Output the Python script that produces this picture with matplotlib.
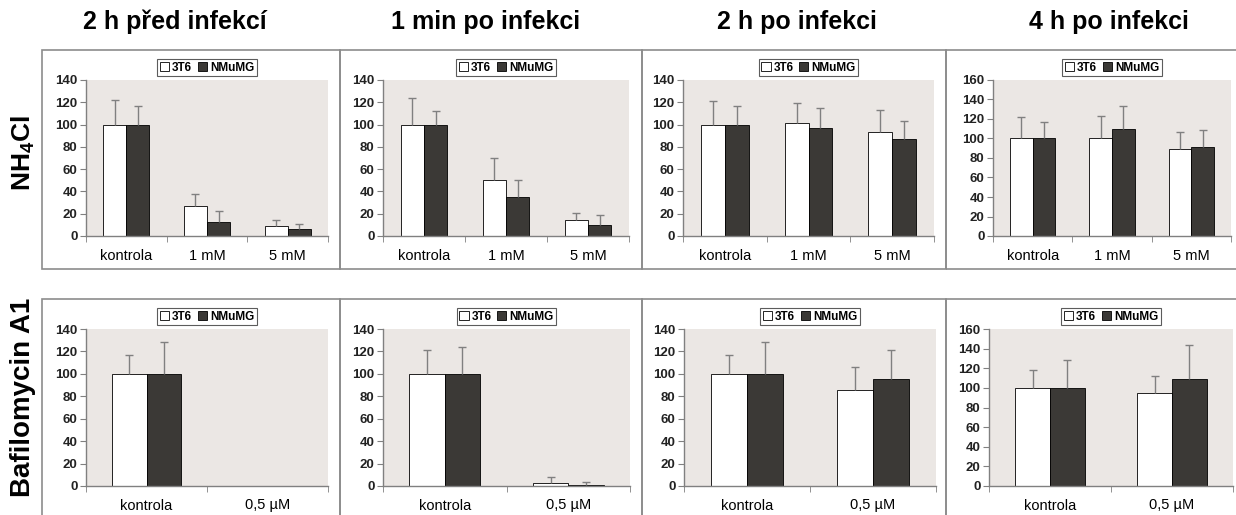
#!/usr/bin/env python3
import matplotlib
matplotlib.use('Agg')
import matplotlib.pyplot as plt
from matplotlib.patches import Patch, Rectangle
import numpy as np

plt.rcParams['font.family'] = ['Liberation Sans', 'DejaVu Sans']
plt.rcParams['mathtext.fontset'] = 'custom'
plt.rcParams['mathtext.rm'] = 'Liberation Sans:bold'
plt.rcParams['mathtext.bf'] = 'Liberation Sans:bold'

# column / row headings
col_titles = ['2 h před infekcí', '1 min po infekci', '2 h po infekci', '4 h po infekci']
row_titles = ['NH$_4$Cl', 'Bafilomycin A1']
series = ['3T6', 'NMuMG']

# NH4Cl row
nh4_cats = ['kontrola', '1 mM', '5 mM']
nh4_3t6 = [[100, 27, 9], [100, 50, 14], [100, 101, 93], [100, 101, 89]]
nh4_3t6_err = [[22, 11, 5], [24, 20, 7], [21, 18, 20], [22, 22, 18]]
nh4_nmumg = [[100, 13, 6], [100, 35, 10], [100, 97, 87], [100, 110, 91]]
nh4_nmumg_err = [[17, 9, 5], [12, 15, 9], [17, 18, 16], [17, 23, 18]]
nh4_ymax = [140, 140, 140, 160]

# Bafilomycin row
baf_cats = ['kontrola', '0,5 µM']
baf_3t6 = [[100, 0], [100, 3], [100, 86], [100, 95]]
baf_3t6_err = [[17, 0], [21, 5], [17, 20], [18, 17]]
baf_nmumg = [[100, 0], [100, 1], [100, 95], [100, 109]]
baf_nmumg_err = [[28, 0], [24, 3], [28, 26], [28, 35]]
baf_ymax = [140, 140, 140, 160]

W, H = 1236, 515
fig = plt.figure(figsize=(W / 100, H / 100), dpi=100)

def px_rect(x0, y0, x1, y1):
    # pixel box (top-left origin) -> figure fraction
    return [x0 / W, 1 - y1 / H, (x1 - x0) / W, (y1 - y0) / H]

# panel frames
frame_x = [42, 340, 642, 946, 1240]
for (fy0, fy1) in [(50, 269), (299, 520)]:
    for i in range(4):
        fig.add_artist(Rectangle((frame_x[i] / W, 1 - fy1 / H),
                                 (frame_x[i + 1] - frame_x[i]) / W, (fy1 - fy0) / H,
                                 transform=fig.transFigure, fill=False,
                                 edgecolor='#8c8c8c', linewidth=1.2))

top_x = [(86, 328), (383, 629), (683, 934), (993, 1231)]
bot_x = [(86, 328), (383, 630), (684, 936), (989, 1233)]

bar_bg = '#ebe7e4'
dark = '#3b3936'

def upper_err(ax, xs, vals, errs):
    xs, vals, errs = np.asarray(xs), np.asarray(vals), np.asarray(errs)
    keep = errs > 0
    _, caps, _ = ax.errorbar(xs[keep], vals[keep], yerr=[np.zeros(keep.sum()), errs[keep]],
                             fmt='none', ecolor='#808080', elinewidth=1,
                             capsize=3, capthick=1)
    caps[0].set_visible(False)

def draw_panel(rect, cats, v1, e1, v2, e2, ymax):
    ax = fig.add_axes(rect)
    ax.set_facecolor(bar_bg)
    n = len(cats)
    x = np.arange(n)
    w = 0.2857
    ax.bar(x - w / 2, v1, w, color='white', edgecolor='black', linewidth=0.6, zorder=2)
    ax.bar(x + w / 2, v2, w, color=dark, edgecolor='black', linewidth=0.6, zorder=2)
    upper_err(ax, x - w / 2, v1, e1)
    upper_err(ax, x + w / 2, v2, e2)
    ax.set_xlim(-0.5, n - 0.5)
    ax.set_ylim(0, ymax)
    ax.set_yticks(np.arange(0, ymax + 1, 20))
    ax.set_xticks(x)
    ax.set_xticklabels(cats, fontsize=10.5)
    ax.set_xticks(np.arange(n + 1) - 0.5, minor=True)
    ax.tick_params(axis='x', which='major', length=0, pad=9)
    ax.tick_params(axis='x', which='minor', length=4, color='#808080', direction='out')
    ax.tick_params(axis='y', length=4, color='#808080', direction='out', pad=2)
    for lab in ax.get_yticklabels():
        lab.set_fontsize(9.5)
        lab.set_fontweight('bold')
        lab.set_color('#222222')
    for s in ['top', 'right']:
        ax.spines[s].set_visible(False)
    for s in ['left', 'bottom']:
        ax.spines[s].set_color('#808080')
        ax.spines[s].set_linewidth(1)
    handles = [Patch(facecolor='white', edgecolor='black', linewidth=0.6),
               Patch(facecolor=dark, edgecolor='black', linewidth=0.6)]
    leg = ax.legend(handles, series, loc='lower center', bbox_to_anchor=(0.5, 1.025),
                    ncol=2, frameon=True, fancybox=False, borderpad=0.2,
                    handlelength=0.8, handleheight=0.8, handletextpad=0.25,
                    columnspacing=0.45, borderaxespad=0,
                    prop={'size': 8.5, 'weight': 'bold'})
    leg.get_frame().set_edgecolor('#333333')
    leg.get_frame().set_linewidth(0.8)
    return ax

for i in range(4):
    draw_panel(px_rect(top_x[i][0], 80, top_x[i][1], 236), nh4_cats,
               nh4_3t6[i], nh4_3t6_err[i], nh4_nmumg[i], nh4_nmumg_err[i], nh4_ymax[i])
    draw_panel(px_rect(bot_x[i][0], 329, bot_x[i][1], 486), baf_cats,
               baf_3t6[i], baf_3t6_err[i], baf_nmumg[i], baf_nmumg_err[i], baf_ymax[i])

title_cx = [175, 486, 797, 1109]
for cx, t in zip(title_cx, col_titles):
    fig.text(cx / W, 1 - 22 / H, t, ha='center', va='center', fontsize=18, fontweight='bold')

fig.text(23 / W, 1 - 153 / H, row_titles[0], ha='center', va='center', rotation=90,
         fontsize=19, fontweight='bold')
fig.text(23 / W, 1 - 397 / H, row_titles[1], ha='center', va='center', rotation=90,
         fontsize=20, fontweight='bold')

fig.savefig('out.png', dpi=100)
